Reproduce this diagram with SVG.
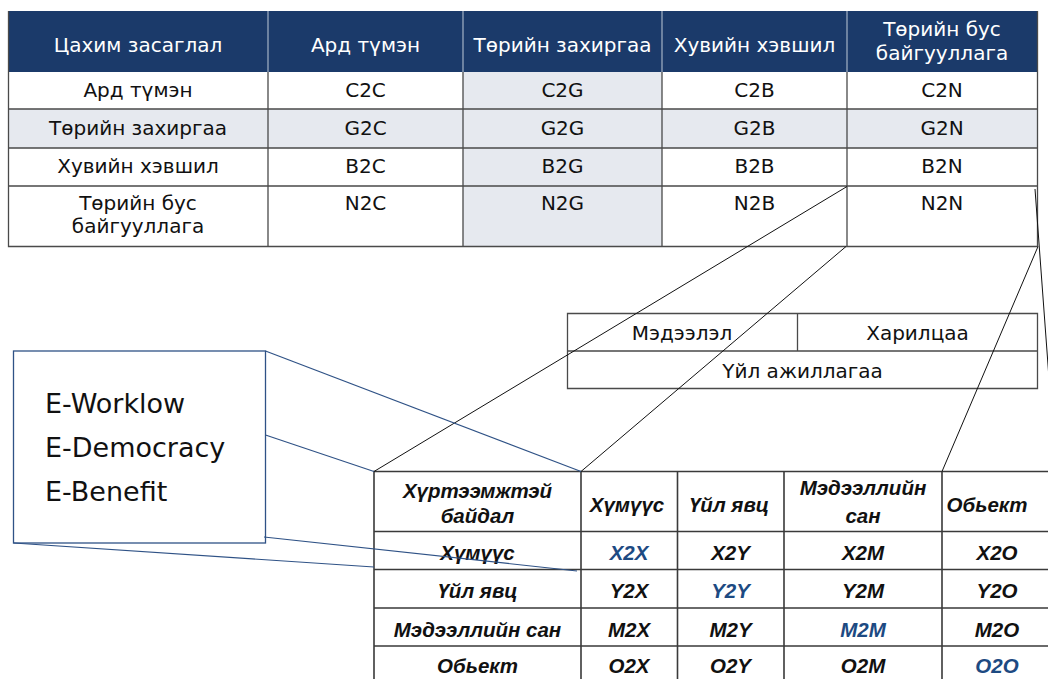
<svg xmlns="http://www.w3.org/2000/svg" width="1048" height="679" viewBox="0 0 1048 679">
  <style>
    .cell { font-family: "DejaVu Sans", "Noto Sans", sans-serif; font-size: 20px; fill: #111; text-anchor: middle; }
    .head { font-family: "DejaVu Sans", "Noto Sans", sans-serif; font-size: 20px; fill: #ffffff; text-anchor: middle; }
    .grid { stroke: #4a4a4a; stroke-width: 1.3; fill: none; }
    .hsep { stroke: #9aa9bf; stroke-width: 1.3; }
    .shade { fill: #e6e9ef; }
    .ebox { font-family: "DejaVu Sans", "Noto Sans", sans-serif; font-size: 27px; fill: #111; }
    .bt { font-family: "Liberation Sans", Arial, sans-serif; font-size: 20.5px; font-weight: bold; font-style: italic; fill: #111; text-anchor: middle; }
    .bt.blue { fill: #1d4a82; }
    .bgrid { stroke: #3a3a3a; stroke-width: 1.6; fill: none; }
    .link { stroke: #111; stroke-width: 1; fill: none; }
    .blink { stroke: #2f5286; stroke-width: 1.2; fill: none; }
  </style>

  <rect width="1048" height="679" fill="#ffffff"/>

  <!-- Matrix of e-government relations -->
  <g id="egov-matrix">
    <rect x="8.5" y="11" width="1029" height="61" fill="#1b3a6a"/>
    <rect class="shade" x="8.5" y="109" width="1029" height="39"/>
    <rect class="shade" x="463" y="72" width="199" height="174.5"/>
    <line class="hsep" x1="268" y1="11" x2="268" y2="72"/>
    <line class="hsep" x1="463" y1="11" x2="463" y2="72"/>
    <line class="hsep" x1="662" y1="11" x2="662" y2="72"/>
    <line class="hsep" x1="847" y1="11" x2="847" y2="72"/>
    <path class="grid" d="M8.5 72V246.5H1037.5V11M8.5 109H1037.5M8.5 148H1037.5M8.5 186H1037.5M268 72V246.5M463 72V246.5M662 72V246.5M847 72V246.5"/>
    <line x1="8.5" y1="11" x2="8.5" y2="72" stroke="#4a4a4a" stroke-width="1.3"/>

    <text class="head" x="138" y="51.5">Цахим засаглал</text>
    <text class="head" x="365.5" y="51.5">Ард түмэн</text>
    <text class="head" x="562.5" y="51.5">Төрийн захиргаа</text>
    <text class="head" x="754.5" y="51.5">Хувийн хэвшил</text>
    <text class="head" x="942" y="36">Төрийн бус</text>
    <text class="head" x="942" y="60">байгууллага</text>

    <text class="cell" x="138" y="97">Ард түмэн</text>
    <text class="cell" x="365.5" y="97">C2C</text>
    <text class="cell" x="562.5" y="97">C2G</text>
    <text class="cell" x="754.5" y="97">C2B</text>
    <text class="cell" x="942" y="97">C2N</text>

    <text class="cell" x="138" y="135">Төрийн захиргаа</text>
    <text class="cell" x="365.5" y="135">G2C</text>
    <text class="cell" x="562.5" y="135">G2G</text>
    <text class="cell" x="754.5" y="135">G2B</text>
    <text class="cell" x="942" y="135">G2N</text>

    <text class="cell" x="138" y="172.5">Хувийн хэвшил</text>
    <text class="cell" x="365.5" y="172.5">B2C</text>
    <text class="cell" x="562.5" y="172.5">B2G</text>
    <text class="cell" x="754.5" y="172.5">B2B</text>
    <text class="cell" x="942" y="172.5">B2N</text>

    <text class="cell" x="138" y="210">Төрийн бус</text>
    <text class="cell" x="138" y="233">байгууллага</text>
    <text class="cell" x="365.5" y="210">N2C</text>
    <text class="cell" x="562.5" y="210">N2G</text>
    <text class="cell" x="754.5" y="210">N2B</text>
    <text class="cell" x="942" y="210">N2N</text>
  </g>

  <!-- Information / interaction / operations block -->
  <g id="layers">
    <path class="grid" d="M567.5 313.5H1037.5V388.5H567.5ZM567.5 351H1037.5M797.5 313.5V351"/>
    <text class="cell" x="682" y="340">Мэдээлэл</text>
    <text class="cell" x="917.5" y="340">Харилцаа</text>
    <text class="cell" x="802.5" y="378">Үйл ажиллагаа</text>
  </g>

  <!-- Service examples -->
  <g id="e-services">
    <rect x="13.5" y="351" width="252" height="192" fill="#ffffff" stroke="#2f5286" stroke-width="1.3"/>
    <text class="ebox" x="45" y="413">E-Worklow</text>
    <text class="ebox" x="45" y="457">E-Democracy</text>
    <text class="ebox" x="45" y="501">E-Benefit</text>
  </g>

  <!-- Accessibility matrix -->
  <g id="access-matrix">
    <rect x="374" y="471.5" width="680" height="213" fill="#ffffff"/>
    <path class="bgrid" d="M374 684V471.5H1054M374 531.5H1054M374 569.5H1054M374 608H1054M374 646H1054M581 471.5V684M677.5 471.5V684M784 471.5V684M942 471.5V684"/>

    <text class="bt" x="477.5" y="498">Хүртээмжтэй</text>
    <text class="bt" x="477.5" y="523">байдал</text>
    <text class="bt" x="627" y="511.5">Хүмүүс</text>
    <text class="bt" x="729" y="511.5">Үйл явц</text>
    <text class="bt" x="863" y="495">Мэдээллийн</text>
    <text class="bt" x="863" y="523">сан</text>
    <text class="bt" x="987" y="511.5">Обьект</text>

    <text class="bt" x="477.5" y="560">Хүмүүс</text>
    <text class="bt blue" x="629" y="560">X2X</text>
    <text class="bt" x="730.5" y="560">X2Y</text>
    <text class="bt" x="863" y="560">X2M</text>
    <text class="bt" x="997" y="560">X2O</text>

    <text class="bt" x="477.5" y="598">Үйл явц</text>
    <text class="bt" x="629" y="598">Y2X</text>
    <text class="bt blue" x="730.5" y="598">Y2Y</text>
    <text class="bt" x="863" y="598">Y2M</text>
    <text class="bt" x="997" y="598">Y2O</text>

    <text class="bt" x="477.5" y="636.5">Мэдээллийн сан</text>
    <text class="bt" x="629" y="636.5">M2X</text>
    <text class="bt" x="730.5" y="636.5">M2Y</text>
    <text class="bt blue" x="863" y="636.5">M2M</text>
    <text class="bt" x="997" y="636.5">M2O</text>

    <text class="bt" x="477.5" y="673">Обьект</text>
    <text class="bt" x="629" y="673">O2X</text>
    <text class="bt" x="730.5" y="673">O2Y</text>
    <text class="bt" x="863" y="673">O2M</text>
    <text class="bt blue" x="997" y="673">O2O</text>
  </g>

  <!-- Connector lines -->
  <g id="connectors">
    <line class="link" x1="847" y1="186.5" x2="374" y2="471.5"/>
    <line class="link" x1="846" y1="246.5" x2="581" y2="471.5"/>
    <line class="link" x1="1038" y1="246.5" x2="942" y2="471.5"/>
    <line class="link" x1="1035" y1="189" x2="1050" y2="392"/>
    <line class="blink" x1="265.5" y1="351" x2="581" y2="471.5"/>
    <line class="blink" x1="265.5" y1="435" x2="374" y2="471.5"/>
    <line class="blink" x1="264" y1="537" x2="577" y2="571"/>
    <line class="blink" x1="13.5" y1="543" x2="374" y2="567"/>
  </g>
</svg>
